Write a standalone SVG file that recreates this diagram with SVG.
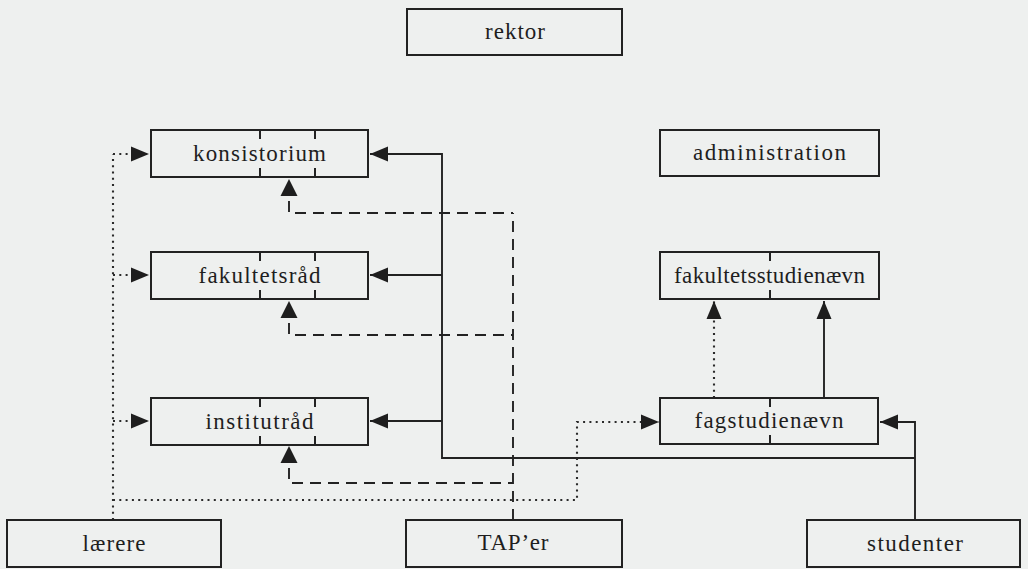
<svg xmlns="http://www.w3.org/2000/svg" xmlns:xlink="http://www.w3.org/1999/xlink" width="1028" height="569" viewBox="0 0 1028 569">
<style>
.bg{fill:#eef0ef}
.box{fill:none;stroke:#222;stroke-width:2}
.tick{stroke:#222;stroke-width:2}
.lbl{font-family:"Liberation Serif","Times New Roman",serif;font-size:23px;fill:#1e1e1e;text-anchor:middle}
.solid{fill:none;stroke:#222;stroke-width:1.9}
.dash{fill:none;stroke:#222;stroke-width:1.9;stroke-dasharray:11 7}
.dot{fill:none;stroke:#2a2a2a;stroke-width:2.1;stroke-dasharray:2 4.3}
.ah{fill:#1e1e1e}
</style>
<defs>
<marker id="arr" markerUnits="userSpaceOnUse" markerWidth="20" markerHeight="18" refX="18" refY="8" orient="auto">
<path d="M0,0.5 L18,8 L0,15.5 Z" class="ah"/>
</marker>
<path id="up" d="M0,0 L8.5,17 L-8.5,17 Z" class="ah"/>
</defs>
<rect class="bg" x="0" y="0" width="1028" height="569"/>

<g id="connectors">
<!-- solid: studenter -->
<path class="solid" d="M915,520 V422 H880" marker-end="url(#arr)"/>
<path class="solid" d="M915,458 H442 V154 H370" marker-end="url(#arr)"/>
<path class="solid" d="M442,275 H370" marker-end="url(#arr)"/>
<path class="solid" d="M442,421 H370" marker-end="url(#arr)"/>
<path class="solid" d="M824,398 V301" marker-end="url(#arr)"/>
<!-- dashed: TAP'er -->
<path class="dash" d="M513,520 V213"/>
<path class="dash" style="stroke-dashoffset:-5" d="M289,196 V213 H513"/>
<path class="dash" style="stroke-dashoffset:-5" d="M289,318 V335 H513"/>
<path class="dash" style="stroke-dashoffset:-5" d="M289,463 V483 H513"/>
<use xlink:href="#up" x="289" y="179"/>
<use xlink:href="#up" x="289" y="301"/>
<use xlink:href="#up" x="289" y="446"/>
<!-- dotted: lærere -->
<path class="dot" d="M113,520 V154"/>
<path class="dot" d="M113,154 H149" marker-end="url(#arr)"/>
<path class="dot" d="M113,275 H149" marker-end="url(#arr)"/>
<path class="dot" d="M113,421 H149" marker-end="url(#arr)"/>
<path class="dot" d="M113,500 H577 V422 H659" marker-end="url(#arr)"/>
<path class="dot" d="M714,398 V301" marker-end="url(#arr)"/>
</g>

<g id="rektor">
<rect class="box" x="407" y="9" width="215" height="46"/>
<text class="lbl" x="515" y="39" textLength="60" lengthAdjust="spacing">rektor</text>
</g>
<g id="konsistorium">
<rect class="box" x="151" y="130" width="217" height="47"/>
<path class="tick" d="M260,130 V139 M315,130 V139 M260,168 V177 M315,168 V177"/>
<text class="lbl" x="259.5" y="161" textLength="133" lengthAdjust="spacing">konsistorium</text>
</g>
<g id="fakultetsraad">
<rect class="box" x="151" y="252" width="217" height="47"/>
<path class="tick" d="M260,252 V261 M315,252 V261 M260,290 V299 M315,290 V299"/>
<text class="lbl" x="259.5" y="283" textLength="122" lengthAdjust="spacing">fakultetsråd</text>
</g>
<g id="institutraad">
<rect class="box" x="151" y="398" width="217" height="47"/>
<path class="tick" d="M260,398 V407 M315,398 V407 M260,436 V445 M315,436 V445"/>
<text class="lbl" x="259.5" y="429" textLength="108" lengthAdjust="spacing">institutråd</text>
</g>
<g id="laerere">
<rect class="box" x="7" y="520" width="214" height="47"/>
<text class="lbl" x="114" y="551" textLength="63" lengthAdjust="spacing">lærere</text>
</g>
<g id="taper">
<rect class="box" x="406" y="520" width="216" height="47"/>
<text class="lbl" x="513" y="550" textLength="71" lengthAdjust="spacing">TAP’er</text>
</g>
<g id="studenter">
<rect class="box" x="807" y="520" width="213" height="47"/>
<text class="lbl" x="915" y="551" textLength="96" lengthAdjust="spacing">studenter</text>
</g>
<g id="administration">
<rect class="box" x="660" y="130" width="219" height="46"/>
<text class="lbl" x="769.5" y="160" textLength="153" lengthAdjust="spacing">administration</text>
</g>
<g id="fakultetsstudienaevn">
<rect class="box" x="660" y="252" width="219" height="47"/>
<path class="tick" d="M770,252 V261 M770,290 V299"/>
<text class="lbl" x="769.5" y="283" textLength="191" lengthAdjust="spacing">fakultetsstudienævn</text>
</g>
<g id="fagstudienaevn">
<rect class="box" x="660" y="398" width="218" height="46"/>
<path class="tick" d="M770,398 V407 M770,435 V444"/>
<text class="lbl" x="769" y="428" textLength="149" lengthAdjust="spacing">fagstudienævn</text>
</g>
</svg>
